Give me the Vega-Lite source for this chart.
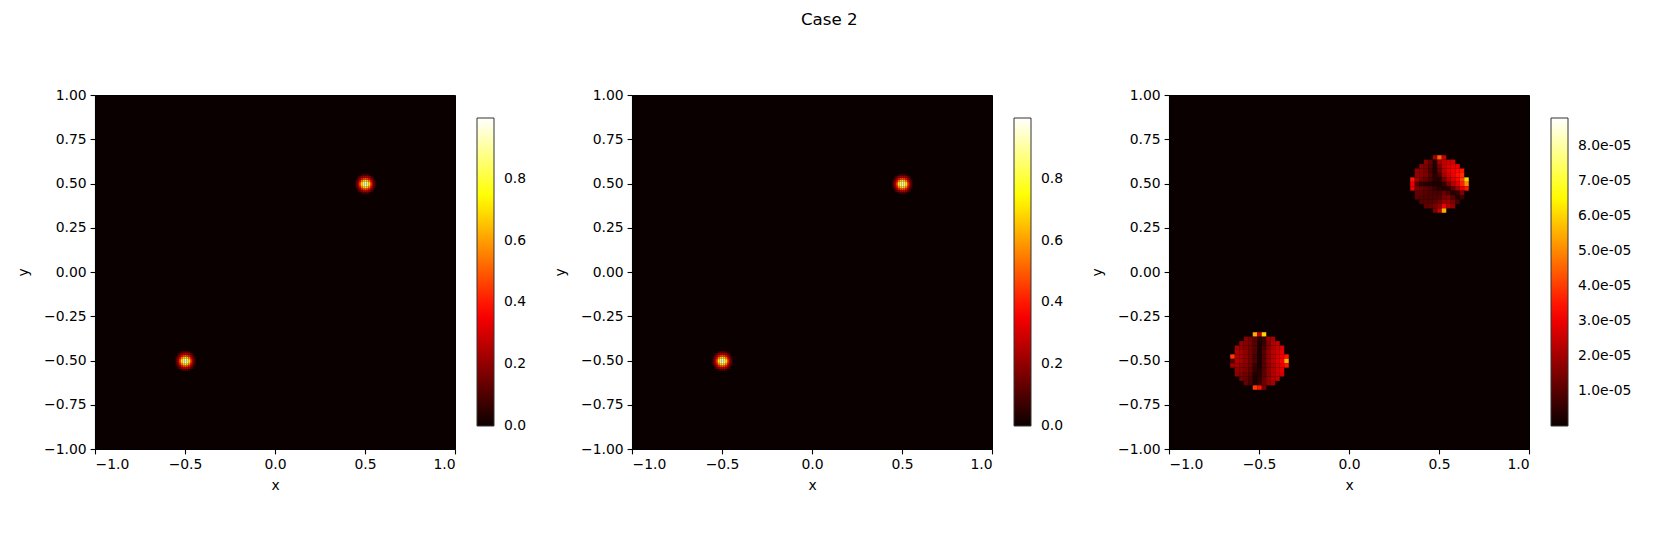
{
"$schema": "https://vega.github.io/schema/vega-lite/v6.json",
"title": {"text": "Case 2", "fontSize": 16.7, "font": "DejaVu Sans", "fontWeight": "normal", "color": "black", "anchor": "middle", "offset": 59, "dx": 5},
"padding": {"left": 16, "top": 11, "right": 5, "bottom": 5},
"background": "white",
"spacing": 25,
"datasets": {
"gauss": [
{"x":0.445,"y":0.475,"v":0.088},{"x":0.445,"y":0.485,"v":0.114},{"x":0.445,"y":0.495,"v":0.124},{"x":0.445,"y":0.505,"v":0.114},{"x":0.445,"y":0.515,"v":0.088},
{"x":0.455,"y":0.455,"v":0.068},{"x":0.455,"y":0.465,"v":0.124},{"x":0.455,"y":0.475,"v":0.187},{"x":0.455,"y":0.485,"v":0.241},{"x":0.455,"y":0.495,"v":0.261},{"x":0.455,"y":0.505,"v":0.241},{"x":0.455,"y":0.515,"v":0.187},{"x":0.455,"y":0.525,"v":0.124},{"x":0.455,"y":0.535,"v":0.068},
{"x":0.465,"y":0.455,"v":0.124},{"x":0.465,"y":0.465,"v":0.221},{"x":0.465,"y":0.475,"v":0.335},{"x":0.465,"y":0.485,"v":0.431},{"x":0.465,"y":0.495,"v":0.467},{"x":0.465,"y":0.505,"v":0.431},{"x":0.465,"y":0.515,"v":0.335},{"x":0.465,"y":0.525,"v":0.221},{"x":0.465,"y":0.535,"v":0.124},
{"x":0.475,"y":0.445,"v":0.088},{"x":0.475,"y":0.455,"v":0.187},{"x":0.475,"y":0.465,"v":0.335},{"x":0.475,"y":0.475,"v":0.508},{"x":0.475,"y":0.485,"v":0.653},{"x":0.475,"y":0.495,"v":0.710},{"x":0.475,"y":0.505,"v":0.653},{"x":0.475,"y":0.515,"v":0.508},{"x":0.475,"y":0.525,"v":0.335},{"x":0.475,"y":0.535,"v":0.187},{"x":0.475,"y":0.545,"v":0.088},
{"x":0.485,"y":0.445,"v":0.114},{"x":0.485,"y":0.455,"v":0.241},{"x":0.485,"y":0.465,"v":0.431},{"x":0.485,"y":0.475,"v":0.653},{"x":0.485,"y":0.485,"v":0.838},{"x":0.485,"y":0.495,"v":0.911},{"x":0.485,"y":0.505,"v":0.838},{"x":0.485,"y":0.515,"v":0.653},{"x":0.485,"y":0.525,"v":0.431},{"x":0.485,"y":0.535,"v":0.241},{"x":0.485,"y":0.545,"v":0.114},
{"x":0.495,"y":0.445,"v":0.124},{"x":0.495,"y":0.455,"v":0.261},{"x":0.495,"y":0.465,"v":0.467},{"x":0.495,"y":0.475,"v":0.710},{"x":0.495,"y":0.485,"v":0.911},{"x":0.495,"y":0.495,"v":0.997},{"x":0.495,"y":0.505,"v":0.911},{"x":0.495,"y":0.515,"v":0.710},{"x":0.495,"y":0.525,"v":0.467},{"x":0.495,"y":0.535,"v":0.261},{"x":0.495,"y":0.545,"v":0.124},
{"x":0.505,"y":0.445,"v":0.114},{"x":0.505,"y":0.455,"v":0.241},{"x":0.505,"y":0.465,"v":0.431},{"x":0.505,"y":0.475,"v":0.653},{"x":0.505,"y":0.485,"v":0.838},{"x":0.505,"y":0.495,"v":0.911},{"x":0.505,"y":0.505,"v":0.838},{"x":0.505,"y":0.515,"v":0.653},{"x":0.505,"y":0.525,"v":0.431},{"x":0.505,"y":0.535,"v":0.241},{"x":0.505,"y":0.545,"v":0.114},
{"x":0.515,"y":0.445,"v":0.088},{"x":0.515,"y":0.455,"v":0.187},{"x":0.515,"y":0.465,"v":0.335},{"x":0.515,"y":0.475,"v":0.508},{"x":0.515,"y":0.485,"v":0.653},{"x":0.515,"y":0.495,"v":0.710},{"x":0.515,"y":0.505,"v":0.653},{"x":0.515,"y":0.515,"v":0.508},{"x":0.515,"y":0.525,"v":0.335},{"x":0.515,"y":0.535,"v":0.187},{"x":0.515,"y":0.545,"v":0.088},
{"x":0.525,"y":0.455,"v":0.124},{"x":0.525,"y":0.465,"v":0.221},{"x":0.525,"y":0.475,"v":0.335},{"x":0.525,"y":0.485,"v":0.431},{"x":0.525,"y":0.495,"v":0.467},{"x":0.525,"y":0.505,"v":0.431},{"x":0.525,"y":0.515,"v":0.335},{"x":0.525,"y":0.525,"v":0.221},{"x":0.525,"y":0.535,"v":0.124},
{"x":0.535,"y":0.455,"v":0.068},{"x":0.535,"y":0.465,"v":0.124},{"x":0.535,"y":0.475,"v":0.187},{"x":0.535,"y":0.485,"v":0.241},{"x":0.535,"y":0.495,"v":0.261},{"x":0.535,"y":0.505,"v":0.241},{"x":0.535,"y":0.515,"v":0.187},{"x":0.535,"y":0.525,"v":0.124},{"x":0.535,"y":0.535,"v":0.068},
{"x":0.545,"y":0.475,"v":0.088},{"x":0.545,"y":0.485,"v":0.114},{"x":0.545,"y":0.495,"v":0.124},{"x":0.545,"y":0.505,"v":0.114},{"x":0.545,"y":0.515,"v":0.088},
{"x":-0.555,"y":-0.525,"v":0.088},{"x":-0.555,"y":-0.515,"v":0.114},{"x":-0.555,"y":-0.505,"v":0.124},{"x":-0.555,"y":-0.495,"v":0.114},{"x":-0.555,"y":-0.485,"v":0.088},
{"x":-0.545,"y":-0.545,"v":0.068},{"x":-0.545,"y":-0.535,"v":0.124},{"x":-0.545,"y":-0.525,"v":0.187},{"x":-0.545,"y":-0.515,"v":0.241},{"x":-0.545,"y":-0.505,"v":0.261},{"x":-0.545,"y":-0.495,"v":0.241},{"x":-0.545,"y":-0.485,"v":0.187},{"x":-0.545,"y":-0.475,"v":0.124},{"x":-0.545,"y":-0.465,"v":0.068},
{"x":-0.535,"y":-0.545,"v":0.124},{"x":-0.535,"y":-0.535,"v":0.221},{"x":-0.535,"y":-0.525,"v":0.335},{"x":-0.535,"y":-0.515,"v":0.431},{"x":-0.535,"y":-0.505,"v":0.467},{"x":-0.535,"y":-0.495,"v":0.431},{"x":-0.535,"y":-0.485,"v":0.335},{"x":-0.535,"y":-0.475,"v":0.221},{"x":-0.535,"y":-0.465,"v":0.124},
{"x":-0.525,"y":-0.555,"v":0.088},{"x":-0.525,"y":-0.545,"v":0.187},{"x":-0.525,"y":-0.535,"v":0.335},{"x":-0.525,"y":-0.525,"v":0.508},{"x":-0.525,"y":-0.515,"v":0.653},{"x":-0.525,"y":-0.505,"v":0.710},{"x":-0.525,"y":-0.495,"v":0.653},{"x":-0.525,"y":-0.485,"v":0.508},{"x":-0.525,"y":-0.475,"v":0.335},{"x":-0.525,"y":-0.465,"v":0.187},{"x":-0.525,"y":-0.455,"v":0.088},
{"x":-0.515,"y":-0.555,"v":0.114},{"x":-0.515,"y":-0.545,"v":0.241},{"x":-0.515,"y":-0.535,"v":0.431},{"x":-0.515,"y":-0.525,"v":0.653},{"x":-0.515,"y":-0.515,"v":0.838},{"x":-0.515,"y":-0.505,"v":0.911},{"x":-0.515,"y":-0.495,"v":0.838},{"x":-0.515,"y":-0.485,"v":0.653},{"x":-0.515,"y":-0.475,"v":0.431},{"x":-0.515,"y":-0.465,"v":0.241},{"x":-0.515,"y":-0.455,"v":0.114},
{"x":-0.505,"y":-0.555,"v":0.124},{"x":-0.505,"y":-0.545,"v":0.261},{"x":-0.505,"y":-0.535,"v":0.467},{"x":-0.505,"y":-0.525,"v":0.710},{"x":-0.505,"y":-0.515,"v":0.911},{"x":-0.505,"y":-0.505,"v":0.997},{"x":-0.505,"y":-0.495,"v":0.911},{"x":-0.505,"y":-0.485,"v":0.710},{"x":-0.505,"y":-0.475,"v":0.467},{"x":-0.505,"y":-0.465,"v":0.261},{"x":-0.505,"y":-0.455,"v":0.124},
{"x":-0.495,"y":-0.555,"v":0.114},{"x":-0.495,"y":-0.545,"v":0.241},{"x":-0.495,"y":-0.535,"v":0.431},{"x":-0.495,"y":-0.525,"v":0.653},{"x":-0.495,"y":-0.515,"v":0.838},{"x":-0.495,"y":-0.505,"v":0.911},{"x":-0.495,"y":-0.495,"v":0.838},{"x":-0.495,"y":-0.485,"v":0.653},{"x":-0.495,"y":-0.475,"v":0.431},{"x":-0.495,"y":-0.465,"v":0.241},{"x":-0.495,"y":-0.455,"v":0.114},
{"x":-0.485,"y":-0.555,"v":0.088},{"x":-0.485,"y":-0.545,"v":0.187},{"x":-0.485,"y":-0.535,"v":0.335},{"x":-0.485,"y":-0.525,"v":0.508},{"x":-0.485,"y":-0.515,"v":0.653},{"x":-0.485,"y":-0.505,"v":0.710},{"x":-0.485,"y":-0.495,"v":0.653},{"x":-0.485,"y":-0.485,"v":0.508},{"x":-0.485,"y":-0.475,"v":0.335},{"x":-0.485,"y":-0.465,"v":0.187},{"x":-0.485,"y":-0.455,"v":0.088},
{"x":-0.475,"y":-0.545,"v":0.124},{"x":-0.475,"y":-0.535,"v":0.221},{"x":-0.475,"y":-0.525,"v":0.335},{"x":-0.475,"y":-0.515,"v":0.431},{"x":-0.475,"y":-0.505,"v":0.467},{"x":-0.475,"y":-0.495,"v":0.431},{"x":-0.475,"y":-0.485,"v":0.335},{"x":-0.475,"y":-0.475,"v":0.221},{"x":-0.475,"y":-0.465,"v":0.124},
{"x":-0.465,"y":-0.545,"v":0.068},{"x":-0.465,"y":-0.535,"v":0.124},{"x":-0.465,"y":-0.525,"v":0.187},{"x":-0.465,"y":-0.515,"v":0.241},{"x":-0.465,"y":-0.505,"v":0.261},{"x":-0.465,"y":-0.495,"v":0.241},{"x":-0.465,"y":-0.485,"v":0.187},{"x":-0.465,"y":-0.475,"v":0.124},{"x":-0.465,"y":-0.465,"v":0.068},
{"x":-0.455,"y":-0.525,"v":0.088},{"x":-0.455,"y":-0.515,"v":0.114},{"x":-0.455,"y":-0.505,"v":0.124},{"x":-0.455,"y":-0.495,"v":0.114},{"x":-0.455,"y":-0.485,"v":0.088}
],
"err": [
{"x":-0.5375,"y":-0.3625,"v":5.5e-5},{"x":-0.5125,"y":-0.3625,"v":2.5e-5},{"x":-0.4875,"y":-0.3625,"v":6.0e-5},
{"x":-0.5875,"y":-0.3875,"v":1.6e-5},{"x":-0.5625,"y":-0.3875,"v":1.4e-5},{"x":-0.5375,"y":-0.3875,"v":1.0e-5},{"x":-0.5125,"y":-0.3875,"v":0.3e-5},{"x":-0.4875,"y":-0.3875,"v":0.6e-5},{"x":-0.4625,"y":-0.3875,"v":1.8e-5},{"x":-0.4375,"y":-0.3875,"v":2.0e-5},
{"x":-0.6125,"y":-0.4125,"v":1.8e-5},{"x":-0.5875,"y":-0.4125,"v":1.6e-5},{"x":-0.5625,"y":-0.4125,"v":1.4e-5},{"x":-0.5375,"y":-0.4125,"v":1.0e-5},{"x":-0.5125,"y":-0.4125,"v":0.2e-5},{"x":-0.4875,"y":-0.4125,"v":0.6e-5},{"x":-0.4625,"y":-0.4125,"v":1.6e-5},{"x":-0.4375,"y":-0.4125,"v":2.2e-5},{"x":-0.4125,"y":-0.4125,"v":2.4e-5},
{"x":-0.6375,"y":-0.4375,"v":2.0e-5},{"x":-0.6125,"y":-0.4375,"v":1.8e-5},{"x":-0.5875,"y":-0.4375,"v":1.6e-5},{"x":-0.5625,"y":-0.4375,"v":1.4e-5},{"x":-0.5375,"y":-0.4375,"v":1.0e-5},{"x":-0.5125,"y":-0.4375,"v":0.2e-5},{"x":-0.4875,"y":-0.4375,"v":0.8e-5},{"x":-0.4625,"y":-0.4375,"v":1.6e-5},{"x":-0.4375,"y":-0.4375,"v":2.2e-5},{"x":-0.4125,"y":-0.4375,"v":2.5e-5},{"x":-0.3875,"y":-0.4375,"v":2.7e-5},
{"x":-0.6375,"y":-0.4625,"v":2.2e-5},{"x":-0.6125,"y":-0.4625,"v":2.0e-5},{"x":-0.5875,"y":-0.4625,"v":1.7e-5},{"x":-0.5625,"y":-0.4625,"v":1.4e-5},{"x":-0.5375,"y":-0.4625,"v":1.0e-5},{"x":-0.5125,"y":-0.4625,"v":0.2e-5},{"x":-0.4875,"y":-0.4625,"v":1.0e-5},{"x":-0.4625,"y":-0.4625,"v":1.8e-5},{"x":-0.4375,"y":-0.4625,"v":2.3e-5},{"x":-0.4125,"y":-0.4625,"v":2.6e-5},{"x":-0.3875,"y":-0.4625,"v":2.9e-5},
{"x":-0.6625,"y":-0.4875,"v":4.0e-5},{"x":-0.6375,"y":-0.4875,"v":2.2e-5},{"x":-0.6125,"y":-0.4875,"v":2.0e-5},{"x":-0.5875,"y":-0.4875,"v":1.7e-5},{"x":-0.5625,"y":-0.4875,"v":1.4e-5},{"x":-0.5375,"y":-0.4875,"v":0.8e-5},{"x":-0.5125,"y":-0.4875,"v":0.2e-5},{"x":-0.4875,"y":-0.4875,"v":1.0e-5},{"x":-0.4625,"y":-0.4875,"v":1.8e-5},{"x":-0.4375,"y":-0.4875,"v":2.3e-5},{"x":-0.4125,"y":-0.4875,"v":2.7e-5},{"x":-0.3875,"y":-0.4875,"v":3.0e-5},{"x":-0.3625,"y":-0.4875,"v":3.5e-5},
{"x":-0.6625,"y":-0.5125,"v":1.0e-5},{"x":-0.6375,"y":-0.5125,"v":2.2e-5},{"x":-0.6125,"y":-0.5125,"v":2.0e-5},{"x":-0.5875,"y":-0.5125,"v":1.7e-5},{"x":-0.5625,"y":-0.5125,"v":1.4e-5},{"x":-0.5375,"y":-0.5125,"v":0.9e-5},{"x":-0.5125,"y":-0.5125,"v":0.2e-5},{"x":-0.4875,"y":-0.5125,"v":1.0e-5},{"x":-0.4625,"y":-0.5125,"v":1.8e-5},{"x":-0.4375,"y":-0.5125,"v":2.3e-5},{"x":-0.4125,"y":-0.5125,"v":2.7e-5},{"x":-0.3875,"y":-0.5125,"v":3.2e-5},{"x":-0.3625,"y":-0.5125,"v":5.5e-5},
{"x":-0.6625,"y":-0.5375,"v":2.0e-5},{"x":-0.6375,"y":-0.5375,"v":2.0e-5},{"x":-0.6125,"y":-0.5375,"v":1.8e-5},{"x":-0.5875,"y":-0.5375,"v":1.6e-5},{"x":-0.5625,"y":-0.5375,"v":1.3e-5},{"x":-0.5375,"y":-0.5375,"v":0.6e-5},{"x":-0.5125,"y":-0.5375,"v":0.2e-5},{"x":-0.4875,"y":-0.5375,"v":1.0e-5},{"x":-0.4625,"y":-0.5375,"v":1.7e-5},{"x":-0.4375,"y":-0.5375,"v":2.2e-5},{"x":-0.4125,"y":-0.5375,"v":2.6e-5},{"x":-0.3875,"y":-0.5375,"v":3.0e-5},{"x":-0.3625,"y":-0.5375,"v":3.5e-5},
{"x":-0.6375,"y":-0.5625,"v":1.8e-5},{"x":-0.6125,"y":-0.5625,"v":1.7e-5},{"x":-0.5875,"y":-0.5625,"v":1.5e-5},{"x":-0.5625,"y":-0.5625,"v":1.2e-5},{"x":-0.5375,"y":-0.5625,"v":0.5e-5},{"x":-0.5125,"y":-0.5625,"v":0.3e-5},{"x":-0.4875,"y":-0.5625,"v":1.0e-5},{"x":-0.4625,"y":-0.5625,"v":1.7e-5},{"x":-0.4375,"y":-0.5625,"v":2.2e-5},{"x":-0.4125,"y":-0.5625,"v":2.6e-5},{"x":-0.3875,"y":-0.5625,"v":2.8e-5},
{"x":-0.6375,"y":-0.5875,"v":1.7e-5},{"x":-0.6125,"y":-0.5875,"v":1.5e-5},{"x":-0.5875,"y":-0.5875,"v":1.3e-5},{"x":-0.5625,"y":-0.5875,"v":1.0e-5},{"x":-0.5375,"y":-0.5875,"v":0.3e-5},{"x":-0.5125,"y":-0.5875,"v":0.4e-5},{"x":-0.4875,"y":-0.5875,"v":1.1e-5},{"x":-0.4625,"y":-0.5875,"v":1.7e-5},{"x":-0.4375,"y":-0.5875,"v":2.2e-5},{"x":-0.4125,"y":-0.5875,"v":2.5e-5},{"x":-0.3875,"y":-0.5875,"v":2.6e-5},
{"x":-0.6125,"y":-0.6125,"v":1.4e-5},{"x":-0.5875,"y":-0.6125,"v":1.2e-5},{"x":-0.5625,"y":-0.6125,"v":0.9e-5},{"x":-0.5375,"y":-0.6125,"v":0.2e-5},{"x":-0.5125,"y":-0.6125,"v":0.5e-5},{"x":-0.4875,"y":-0.6125,"v":1.2e-5},{"x":-0.4625,"y":-0.6125,"v":1.8e-5},{"x":-0.4375,"y":-0.6125,"v":2.2e-5},{"x":-0.4125,"y":-0.6125,"v":2.4e-5},
{"x":-0.5875,"y":-0.6375,"v":1.2e-5},{"x":-0.5625,"y":-0.6375,"v":0.8e-5},{"x":-0.5375,"y":-0.6375,"v":0.2e-5},{"x":-0.5125,"y":-0.6375,"v":0.6e-5},{"x":-0.4875,"y":-0.6375,"v":1.3e-5},{"x":-0.4625,"y":-0.6375,"v":1.8e-5},{"x":-0.4375,"y":-0.6375,"v":2.0e-5},
{"x":-0.5375,"y":-0.6625,"v":4.0e-5},{"x":-0.5125,"y":-0.6625,"v":3.5e-5},{"x":-0.4875,"y":-0.6625,"v":1.5e-5},
{"x":0.4625,"y":0.6375,"v":2.0e-5},{"x":0.4875,"y":0.6375,"v":4.5e-5},{"x":0.5125,"y":0.6375,"v":2.5e-5},
{"x":0.4125,"y":0.6125,"v":1.6e-5},{"x":0.4375,"y":0.6125,"v":1.2e-5},{"x":0.4625,"y":0.6125,"v":0.3e-5},{"x":0.4875,"y":0.6125,"v":2.0e-5},{"x":0.5125,"y":0.6125,"v":2.4e-5},{"x":0.5375,"y":0.6125,"v":2.5e-5},{"x":0.5625,"y":0.6125,"v":2.6e-5},
{"x":0.3875,"y":0.5875,"v":1.7e-5},{"x":0.4125,"y":0.5875,"v":1.5e-5},{"x":0.4375,"y":0.5875,"v":1.0e-5},{"x":0.4625,"y":0.5875,"v":0.3e-5},{"x":0.4875,"y":0.5875,"v":1.5e-5},{"x":0.5125,"y":0.5875,"v":2.4e-5},{"x":0.5375,"y":0.5875,"v":2.7e-5},{"x":0.5625,"y":0.5875,"v":2.9e-5},{"x":0.5875,"y":0.5875,"v":3.0e-5},
{"x":0.3625,"y":0.5625,"v":1.8e-5},{"x":0.3875,"y":0.5625,"v":1.7e-5},{"x":0.4125,"y":0.5625,"v":1.4e-5},{"x":0.4375,"y":0.5625,"v":0.8e-5},{"x":0.4625,"y":0.5625,"v":0.3e-5},{"x":0.4875,"y":0.5625,"v":1.3e-5},{"x":0.5125,"y":0.5625,"v":2.3e-5},{"x":0.5375,"y":0.5625,"v":2.8e-5},{"x":0.5625,"y":0.5625,"v":3.1e-5},{"x":0.5875,"y":0.5625,"v":3.3e-5},{"x":0.6125,"y":0.5625,"v":3.5e-5},
{"x":0.3625,"y":0.5375,"v":1.8e-5},{"x":0.3875,"y":0.5375,"v":1.7e-5},{"x":0.4125,"y":0.5375,"v":1.5e-5},{"x":0.4375,"y":0.5375,"v":1.0e-5},{"x":0.4625,"y":0.5375,"v":0.4e-5},{"x":0.4875,"y":0.5375,"v":0.8e-5},{"x":0.5125,"y":0.5375,"v":2.0e-5},{"x":0.5375,"y":0.5375,"v":2.6e-5},{"x":0.5625,"y":0.5375,"v":3.0e-5},{"x":0.5875,"y":0.5375,"v":3.4e-5},{"x":0.6125,"y":0.5375,"v":3.8e-5},
{"x":0.3375,"y":0.5125,"v":3.5e-5},{"x":0.3625,"y":0.5125,"v":2.0e-5},{"x":0.3875,"y":0.5125,"v":1.4e-5},{"x":0.4125,"y":0.5125,"v":1.2e-5},{"x":0.4375,"y":0.5125,"v":0.8e-5},{"x":0.4625,"y":0.5125,"v":0.4e-5},{"x":0.4875,"y":0.5125,"v":0.4e-5},{"x":0.5125,"y":0.5125,"v":1.5e-5},{"x":0.5375,"y":0.5125,"v":2.2e-5},{"x":0.5625,"y":0.5125,"v":2.7e-5},{"x":0.5875,"y":0.5125,"v":3.2e-5},{"x":0.6125,"y":0.5125,"v":4.0e-5},{"x":0.6375,"y":0.5125,"v":6.0e-5},
{"x":0.3375,"y":0.4875,"v":3.0e-5},{"x":0.3625,"y":0.4875,"v":1.0e-5},{"x":0.3875,"y":0.4875,"v":0.5e-5},{"x":0.4125,"y":0.4875,"v":0.3e-5},{"x":0.4375,"y":0.4875,"v":0.3e-5},{"x":0.4625,"y":0.4875,"v":0.2e-5},{"x":0.4875,"y":0.4875,"v":0.2e-5},{"x":0.5125,"y":0.4875,"v":0.6e-5},{"x":0.5375,"y":0.4875,"v":1.5e-5},{"x":0.5625,"y":0.4875,"v":2.2e-5},{"x":0.5875,"y":0.4875,"v":2.8e-5},{"x":0.6125,"y":0.4875,"v":3.6e-5},{"x":0.6375,"y":0.4875,"v":5.0e-5},
{"x":0.3375,"y":0.4625,"v":3.0e-5},{"x":0.3625,"y":0.4625,"v":1.5e-5},{"x":0.3875,"y":0.4625,"v":1.3e-5},{"x":0.4125,"y":0.4625,"v":1.1e-5},{"x":0.4375,"y":0.4625,"v":0.9e-5},{"x":0.4625,"y":0.4625,"v":0.6e-5},{"x":0.4875,"y":0.4625,"v":0.4e-5},{"x":0.5125,"y":0.4625,"v":0.3e-5},{"x":0.5375,"y":0.4625,"v":0.4e-5},{"x":0.5625,"y":0.4625,"v":1.2e-5},{"x":0.5875,"y":0.4625,"v":2.0e-5},{"x":0.6125,"y":0.4625,"v":2.8e-5},{"x":0.6375,"y":0.4625,"v":3.5e-5},
{"x":0.3625,"y":0.4375,"v":1.2e-5},{"x":0.3875,"y":0.4375,"v":1.1e-5},{"x":0.4125,"y":0.4375,"v":1.0e-5},{"x":0.4375,"y":0.4375,"v":0.9e-5},{"x":0.4625,"y":0.4375,"v":0.8e-5},{"x":0.4875,"y":0.4375,"v":0.8e-5},{"x":0.5125,"y":0.4375,"v":1.2e-5},{"x":0.5375,"y":0.4375,"v":0.8e-5},{"x":0.5625,"y":0.4375,"v":0.3e-5},{"x":0.5875,"y":0.4375,"v":0.6e-5},{"x":0.6125,"y":0.4375,"v":1.5e-5},
{"x":0.3625,"y":0.4125,"v":1.1e-5},{"x":0.3875,"y":0.4125,"v":1.0e-5},{"x":0.4125,"y":0.4125,"v":0.9e-5},{"x":0.4375,"y":0.4125,"v":0.9e-5},{"x":0.4625,"y":0.4125,"v":0.9e-5},{"x":0.4875,"y":0.4125,"v":1.0e-5},{"x":0.5125,"y":0.4125,"v":1.5e-5},{"x":0.5375,"y":0.4125,"v":1.6e-5},{"x":0.5625,"y":0.4125,"v":1.0e-5},{"x":0.5875,"y":0.4125,"v":0.3e-5},{"x":0.6125,"y":0.4125,"v":0.6e-5},
{"x":0.3875,"y":0.3875,"v":1.0e-5},{"x":0.4125,"y":0.3875,"v":1.0e-5},{"x":0.4375,"y":0.3875,"v":1.0e-5},{"x":0.4625,"y":0.3875,"v":1.1e-5},{"x":0.4875,"y":0.3875,"v":1.4e-5},{"x":0.5125,"y":0.3875,"v":1.8e-5},{"x":0.5375,"y":0.3875,"v":1.9e-5},{"x":0.5625,"y":0.3875,"v":1.5e-5},{"x":0.5875,"y":0.3875,"v":0.8e-5},
{"x":0.4125,"y":0.3625,"v":1.1e-5},{"x":0.4375,"y":0.3625,"v":1.2e-5},{"x":0.4625,"y":0.3625,"v":1.4e-5},{"x":0.4875,"y":0.3625,"v":1.8e-5},{"x":0.5125,"y":0.3625,"v":3.0e-5},{"x":0.5375,"y":0.3625,"v":2.2e-5},{"x":0.5625,"y":0.3625,"v":1.8e-5},
{"x":0.4625,"y":0.3375,"v":1.5e-5},{"x":0.4875,"y":0.3375,"v":2.5e-5},{"x":0.5125,"y":0.3375,"v":5.5e-5}
]
},
"hconcat": [
{
"width": 360, "height": 354,
"data": {"name": "gauss"},
"mark": {"type": "rect"},
"encoding": {
"x": {"field": "x", "type": "quantitative", "bin": {"binned": true, "step": 0.01}, "scale": {"domain": [-1, 1], "nice": false, "zero": false}, "axis": {"values": [-1, -0.5, 0, 0.5, 1], "format": ".1f", "title": "x", "titlePadding": 7}},
"y": {"field": "y", "type": "quantitative", "bin": {"binned": true, "step": 0.01}, "scale": {"domain": [-1, 1], "nice": false, "zero": false}, "axis": {"values": [-1, -0.75, -0.5, -0.25, 0, 0.25, 0.5, 0.75, 1], "format": ".2f", "title": "y", "titlePadding": 13}},
"color": {"field": "v", "type": "quantitative", "scale": {"type": "linear", "domain": [0, 0.364, 0.7438, 0.997], "range": ["#0b0000", "#ff0000", "#ffff00", "#ffffff"], "interpolate": "rgb", "clamp": true},
"legend": {"orient": "none", "legendX": 382, "legendY": 23, "direction": "vertical", "gradientLength": 308, "gradientThickness": 17, "title": null, "values": [0, 0.2, 0.4, 0.6, 0.8], "format": ".1f", "labelOffset": 10, "labelOverlap": false, "labelBaseline": "middle", "encode": {"labels": {"update": {"baseline": {"value": "middle"}}}}}}
}
},
{
"width": 360, "height": 354,
"data": {"name": "gauss"},
"mark": {"type": "rect"},
"encoding": {
"x": {"field": "x", "type": "quantitative", "bin": {"binned": true, "step": 0.01}, "scale": {"domain": [-1, 1], "nice": false, "zero": false}, "axis": {"values": [-1, -0.5, 0, 0.5, 1], "format": ".1f", "title": "x", "titlePadding": 7}},
"y": {"field": "y", "type": "quantitative", "bin": {"binned": true, "step": 0.01}, "scale": {"domain": [-1, 1], "nice": false, "zero": false}, "axis": {"values": [-1, -0.75, -0.5, -0.25, 0, 0.25, 0.5, 0.75, 1], "format": ".2f", "title": "y", "titlePadding": 13}},
"color": {"field": "v", "type": "quantitative", "scale": {"type": "linear", "domain": [0, 0.364, 0.7438, 0.997], "range": ["#0b0000", "#ff0000", "#ffff00", "#ffffff"], "interpolate": "rgb", "clamp": true},
"legend": {"orient": "none", "legendX": 382, "legendY": 23, "direction": "vertical", "gradientLength": 308, "gradientThickness": 17, "title": null, "values": [0, 0.2, 0.4, 0.6, 0.8], "format": ".1f", "labelOffset": 10, "labelOverlap": false, "labelBaseline": "middle", "encode": {"labels": {"update": {"baseline": {"value": "middle"}}}}}}
}
},
{
"width": 360, "height": 354,
"data": {"name": "err"},
"mark": {"type": "rect"},
"encoding": {
"x": {"field": "x", "type": "quantitative", "bin": {"binned": true, "step": 0.025}, "scale": {"domain": [-1, 1], "nice": false, "zero": false}, "axis": {"values": [-1, -0.5, 0, 0.5, 1], "format": ".1f", "title": "x", "titlePadding": 7}},
"y": {"field": "y", "type": "quantitative", "bin": {"binned": true, "step": 0.025}, "scale": {"domain": [-1, 1], "nice": false, "zero": false}, "axis": {"values": [-1, -0.75, -0.5, -0.25, 0, 0.25, 0.5, 0.75, 1], "format": ".2f", "title": "y", "titlePadding": 13}},
"color": {"field": "v", "type": "quantitative", "scale": {"type": "linear", "domain": [0, 3.212e-5, 6.565e-5, 8.8e-5], "range": ["#0b0000", "#ff0000", "#ffff00", "#ffffff"], "interpolate": "rgb", "clamp": true},
"legend": {"orient": "none", "legendX": 382, "legendY": 23, "direction": "vertical", "gradientLength": 308, "gradientThickness": 17, "title": null, "values": [1e-5, 2e-5, 3e-5, 4e-5, 5e-5, 6e-5, 7e-5, 8e-5], "labelExpr": "replace(format(datum.value, '.1e'), 'e-', 'e-0')", "labelOffset": 10, "labelOverlap": false, "labelBaseline": "middle", "encode": {"labels": {"update": {"baseline": {"value": "middle"}}}}}}
}
}
],
"resolve": {"scale": {"color": "independent", "x": "independent", "y": "independent"}, "legend": {"color": "independent"}},
"config": {
"view": {"fill": "#0b0000", "stroke": "black", "strokeWidth": 1},
"font": "DejaVu Sans",
"axis": {"labelFont": "DejaVu Sans", "labelFontSize": 13.9, "labelColor": "black", "titleFont": "DejaVu Sans", "titleFontSize": 13.9, "titleFontWeight": "normal", "titleColor": "black", "tickColor": "black", "tickSize": 4.9, "tickWidth": 1.1, "domainColor": "black", "domainWidth": 1.1, "labelPadding": 4, "titlePadding": 5, "grid": false},
"legend": {"labelFont": "DejaVu Sans", "labelFontSize": 13.9, "labelColor": "black", "gradientStrokeColor": "#333333", "gradientStrokeWidth": 1}
}
}
